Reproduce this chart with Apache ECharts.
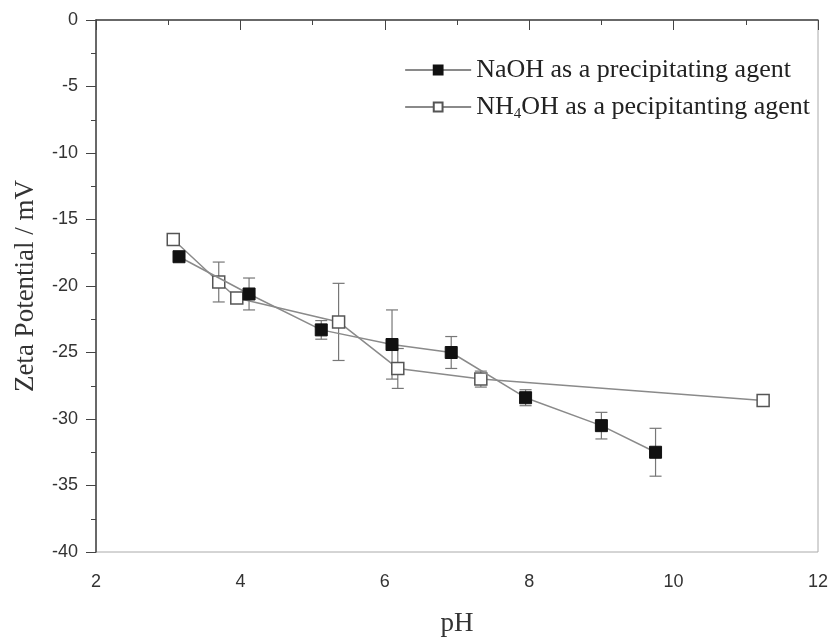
<!DOCTYPE html>
<html>
<head>
<meta charset="utf-8">
<script src="https://cdn.jsdelivr.net/npm/echarts@6/dist/echarts.min.js"></script>
<style>
    html, body { margin: 0; padding: 0; background: #fff; }
    #chart { width: 829px; height: 637px; }
</style>
</head>
<body>
<div id="chart"></div>
<script>
// values
const naohPH = [3.15, 4.12, 5.12, 6.1, 6.92, 7.95, 9.0, 9.75];
const naohZeta = [-17.8, -20.6, -23.3, -24.4, -25.0, -28.4, -30.5, -32.5];
const naohErr = [0.3, 1.2, 0.7, 2.6, 1.2, 0.6, 1.0, 1.8];

const nhPH = [3.07, 3.7, 3.95, 5.36, 6.18, 7.33, 11.24];
const nhZeta = [-16.5, -19.7, -20.9, -22.7, -26.2, -27.0, -28.6];
const nhErr = [0.4, 1.5, 0.3, 2.9, 1.5, 0.6, 0.3];

const serif = '"Liberation Serif", "Times New Roman", serif';
const sans = '"Liberation Sans", Arial, sans-serif';

function pairs(xs, ys) {
    return xs.map((x, i) => [x, ys[i]]);
}

function errRows(xs, ys, es) {
    return xs.map((x, i) => [x, ys[i] - es[i], ys[i] + es[i]]);
}

function errorBar(params, api) {
    let lo = api.coord([api.value(0), api.value(1)]);
    let hi = api.coord([api.value(0), api.value(2)]);
    let cap = 6;
    let style = { stroke: '#777', lineWidth: 1.2 };
    return {
        type: 'group',
        children: [
            { type: 'line', shape: { x1: lo[0], y1: lo[1], x2: hi[0], y2: hi[1] }, style: style },
            { type: 'line', shape: { x1: lo[0] - cap, y1: lo[1], x2: lo[0] + cap, y2: lo[1] }, style: style },
            { type: 'line', shape: { x1: hi[0] - cap, y1: hi[1], x2: hi[0] + cap, y2: hi[1] }, style: style }
        ]
    };
}

let myChart = echarts.init(document.getElementById('chart'));
let option = {
    animation: false,
    backgroundColor: '#fff',
    grid: {
        left: 96,
        right: 11,
        top: 20,
        bottom: 85,
        outerBoundsMode: 'none',
        show: true,
        borderColor: '#aaa',
        borderWidth: 1
    },
    legend: {
        top: 52,
        right: 14,
        orient: 'vertical',
        itemWidth: 66,
        itemHeight: 11,
        itemGap: 11,
        data: ['naoh', 'nh'],
        formatter: function (name) {
            return name === 'naoh'
                ? 'NaOH as a precipitating agent'
                : 'NH{sub|4}OH as a pecipitanting agent';
        },
        textStyle: {
            fontFamily: serif,
            fontSize: 26,
            color: '#222',
            rich: {
                sub: { fontFamily: serif, fontSize: 15, color: '#222', verticalAlign: 'bottom', padding: [14, 0, 0, 0] }
            }
        }
    },
    xAxis: {
        type: 'value',
        min: 2,
        max: 12,
        interval: 2,
        name: 'pH',
        nameLocation: 'middle',
        nameGap: 58,
        nameTextStyle: { fontFamily: serif, fontSize: 27, color: '#333' },
        axisLine: { lineStyle: { color: '#444', width: 1.5 } },
        axisTick: { inside: false, length: 10, lineStyle: { color: '#444' } },
        minorTick: { show: true, splitNumber: 2, length: 5, lineStyle: { color: '#444' } },
        axisLabel: { fontFamily: sans, fontSize: 18, color: '#333', margin: 21 },
        splitLine: { show: false }
    },
    yAxis: {
        type: 'value',
        min: -40,
        max: 0,
        interval: 5,
        name: 'Zeta Potential / mV',
        nameLocation: 'middle',
        nameGap: 57,
        nameTextStyle: { fontFamily: serif, fontSize: 27, color: '#333' },
        axisLine: { lineStyle: { color: '#444', width: 1.5 } },
        axisTick: { inside: false, length: 10, lineStyle: { color: '#444' } },
        minorTick: { show: true, splitNumber: 2, length: 5, lineStyle: { color: '#444' } },
        axisLabel: { fontFamily: sans, fontSize: 18, color: '#333', margin: 18 },
        splitLine: { show: false }
    },
    series: [
        {
            type: 'custom',
            renderItem: errorBar,
            data: errRows(naohPH, naohZeta, naohErr),
            encode: { x: 0, y: [1, 2] },
            z: 1
        },
        {
            type: 'custom',
            renderItem: errorBar,
            data: errRows(nhPH, nhZeta, nhErr),
            encode: { x: 0, y: [1, 2] },
            z: 1
        },
        {
            name: 'naoh',
            type: 'line',
            data: pairs(naohPH, naohZeta),
            symbol: 'rect',
            symbolSize: 12,
            lineStyle: { color: '#8a8a8a', width: 1.5 },
            itemStyle: { color: '#111', borderColor: '#111', borderWidth: 1 },
            z: 3
        },
        {
            name: 'nh',
            type: 'line',
            data: pairs(nhPH, nhZeta),
            symbol: 'rect',
            symbolSize: 12,
            lineStyle: { color: '#8a8a8a', width: 1.5 },
            itemStyle: { color: '#fff', borderColor: '#555', borderWidth: 1.5 },
            z: 2
        }
    ]
};
myChart.setOption(option);
</script>
</body>
</html>
